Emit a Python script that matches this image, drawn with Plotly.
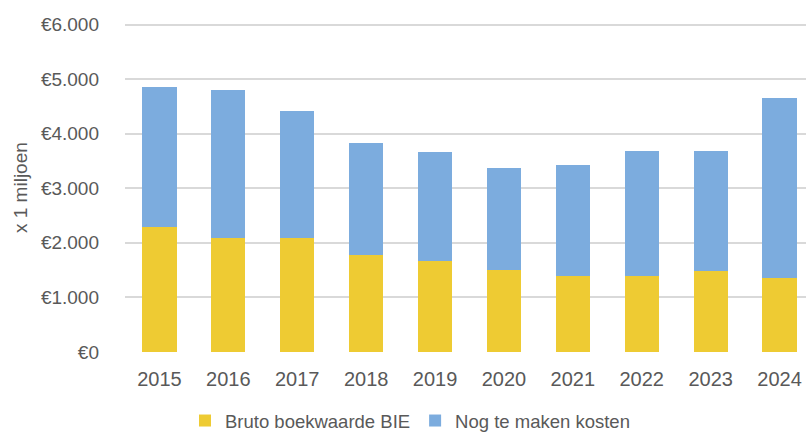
import plotly.graph_objects as go

years = ["2015", "2016", "2017", "2018", "2019", "2020", "2021", "2022", "2023", "2024"]
bruto_boekwaarde = [2285, 2095, 2095, 1780, 1660, 1510, 1390, 1390, 1490, 1350]
totaal = [4853, 4800, 4410, 3820, 3660, 3380, 3420, 3690, 3690, 4660]
nog_te_maken = [t - b for t, b in zip(totaal, bruto_boekwaarde)]

y_tickvals = [0, 1000, 2000, 3000, 4000, 5000, 6000]
y_ticktext = ["€0", "€1.000", "€2.000", "€3.000", "€4.000", "€5.000", "€6.000"]

FONT = "Liberation Sans"
GREY = "#595959"

W, H = 806, 434
L, R, T = 125, 0, 22
B = H - 352
plot_w = W - L - R
plot_h = H - T - B
px_per_unit = 327.5 / 6000
y_top = plot_h / px_per_unit

fig = go.Figure()
fig.add_trace(go.Bar(x=years, y=bruto_boekwaarde, name="Bruto boekwaarde BIE",
                     marker=dict(color="#EECB33", line=dict(width=0))))
fig.add_trace(go.Bar(x=years, y=nog_te_maken, name="Nog te maken kosten",
                     marker=dict(color="#7CACDE", line=dict(width=0))))

fig.update_layout(
    barmode="stack",
    bargap=0.505,
    width=W, height=H,
    margin=dict(l=L, r=R, t=T, b=B, autoexpand=False),
    paper_bgcolor="white", plot_bgcolor="white",
    font=dict(family=FONT, size=19, color=GREY),
    showlegend=True,
    legend=dict(orientation="h", x=(410 - L) / plot_w, xanchor="center",
                y=-(421 - 352) / plot_h, yanchor="middle",
                font=dict(family=FONT, size=18.5, color=GREY), itemwidth=30,
                traceorder="normal"),
    xaxis=dict(type="category", range=[-0.5, 9.384], showgrid=False, zeroline=False,
               showline=False, ticks="outside", ticklen=9, tickcolor="rgba(0,0,0,0)",
               automargin=False,
               tickfont=dict(family=FONT, size=20, color=GREY)),
    yaxis=dict(range=[0, y_top], tickvals=y_tickvals, ticktext=y_ticktext,
               showgrid=True, gridcolor="#D9D9D9", gridwidth=1.5, zeroline=False,
               showline=False, ticklabelstandoff=25, automargin=False,
               tickfont=dict(family=FONT, size=19, color=GREY)),
    annotations=[dict(text="x 1 miljoen", textangle=-90, showarrow=False,
                      xref="paper", yref="paper",
                      x=(20 - L) / plot_w, xanchor="center",
                      y=(352 - 188) / plot_h, yanchor="middle",
                      font=dict(family=FONT, size=19, color=GREY))],
)

fig.write_html(
    "out.html",
    config={"displayModeBar": False},
    post_script="document.body.style.margin='0';document.body.style.overflow='hidden';",
)
